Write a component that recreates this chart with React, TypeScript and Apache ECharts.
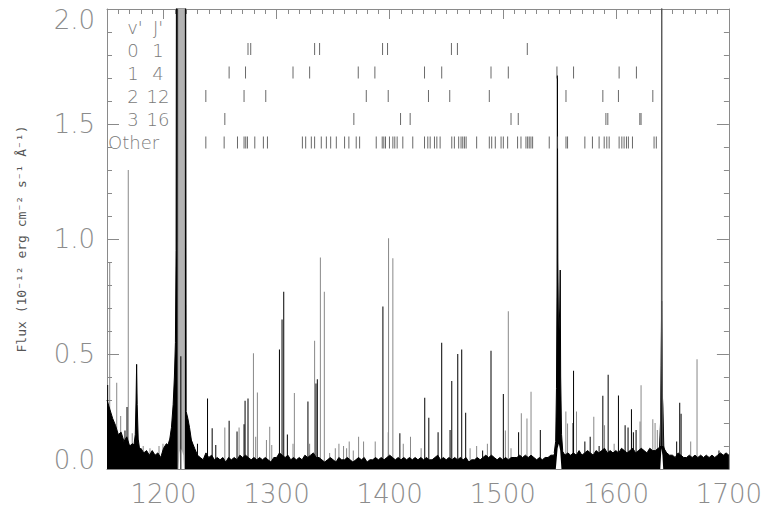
import React, { useEffect, useRef } from "react";
import * as echarts from "echarts";

// ---------- data ----------
const xTickLabels = [1200, 1300, 1400, 1500, 1600, 1700];

// solid noisy continuum (upper envelope), sampled every 2.5 A from 1150 A
const contStart = 1150;
const contStep = 2.5;
const continuumTop = [
  0.30, 0.26, 0.22, 0.19, 0.15, 0.16, 0.12, 0.14, 0.10, 0.11,
  0.10, 0.08, 0.09, 0.07, 0.08, 0.06, 0.08, 0.06, 0.07, 0.05,
  0.09, 0.11, 0.10, 0.13, 0.15, 0.10, 0.10, 0.10, 0.10, 0.14,
  0.12, 0.09, 0.06, 0.05, 0.04, 0.07, 0.05, 0.06, 0.04, 0.05,
  0.04, 0.05, 0.03, 0.05, 0.04, 0.05, 0.04, 0.06, 0.05, 0.06,
  0.05, 0.04, 0.05, 0.04, 0.05, 0.04, 0.05, 0.04, 0.03, 0.05,
  0.05, 0.07, 0.06, 0.05, 0.06, 0.04, 0.05, 0.04, 0.05, 0.04,
  0.06, 0.05, 0.06, 0.07, 0.05, 0.05, 0.04, 0.03, 0.04, 0.05,
  0.04, 0.03, 0.05, 0.04, 0.04, 0.05, 0.04, 0.03, 0.04, 0.05,
  0.04, 0.05, 0.03, 0.04, 0.04, 0.05, 0.04, 0.05, 0.04, 0.05,
  0.06, 0.05, 0.04, 0.05, 0.04, 0.05, 0.04, 0.05, 0.04, 0.05,
  0.04, 0.05, 0.04, 0.05, 0.04, 0.04, 0.05, 0.06, 0.04, 0.05,
  0.04, 0.05, 0.04, 0.05, 0.04, 0.05, 0.04, 0.05, 0.03, 0.04,
  0.04, 0.05, 0.04, 0.05, 0.06, 0.05, 0.06, 0.05, 0.04, 0.05,
  0.04, 0.05, 0.04, 0.05, 0.05, 0.05, 0.06, 0.05, 0.06, 0.05,
  0.06, 0.05, 0.04, 0.05, 0.04, 0.05, 0.05, 0.06, 0.06, 0.08,
  0.10, 0.08, 0.06, 0.07, 0.06, 0.07, 0.06, 0.08, 0.06, 0.07,
  0.08, 0.07, 0.06, 0.08, 0.07, 0.08, 0.09, 0.07, 0.08, 0.07,
  0.08, 0.07, 0.09, 0.08, 0.07, 0.08, 0.09, 0.07, 0.08, 0.09,
  0.08, 0.07, 0.09, 0.08, 0.08, 0.09, 0.10, 0.09, 0.07, 0.06,
  0.06, 0.05, 0.07, 0.06, 0.05, 0.05, 0.06, 0.05, 0.06, 0.05,
  0.06, 0.05, 0.06, 0.05, 0.06, 0.05, 0.06, 0.07, 0.06, 0.07,
  0.06,
];

// narrow emission lines [wavelength A, flux]
const graySpikes: [number, number][] = [
  [1152.4, 0.9], [1158.6, 0.375], [1162.1, 0.23], [1168.8, 1.3], [1172.3, 0.155],
  [1182, 0.1], [1188, 0.09], [1196, 0.1], [1199.5, 0.11], [1254.2, 0.18],
  [1266.8, 0.18], [1279.5, 0.503], [1281.5, 0.14], [1283.0, 0.333], [1291.0, 0.126],
  [1293.9, 0.184], [1295.7, 0.104], [1314.5, 0.11], [1315.7, 0.33], [1329.2, 0.11],
  [1333.6, 0.558], [1338.7, 0.92], [1342.2, 0.771], [1346.9, 0.07], [1351.9, 0.09],
  [1355.1, 0.11], [1359.2, 0.1], [1361.9, 0.09], [1364.2, 0.12], [1367.8, 0.08],
  [1372.5, 0.14], [1376.9, 0.12], [1387.2, 0.12], [1398.7, 0.16], [1399.0, 1.003],
  [1402.8, 0.916], [1412.0, 0.11], [1418.4, 0.14], [1427.8, 0.09], [1471.1, 0.09],
  [1476.9, 0.1], [1486.4, 0.11], [1502.3, 0.167], [1504.9, 0.686], [1507.3, 0.09],
  [1516.4, 0.242], [1521.4, 0.22], [1525.0, 0.336], [1555.8, 0.25], [1557.3, 0.198],
  [1561.7, 0.2], [1565.2, 0.25], [1580.5, 0.227], [1590.0, 0.19], [1598.5, 0.11],
  [1621.4, 0.206], [1622.3, 0.364], [1632.7, 0.216], [1634.7, 0.2], [1636.7, 0.17],
  [1666.2, 0.12], [1671.8, 0.477],
];
const blackSpikes: [number, number][] = [
  [1150.6, 0.365], [1165.9, 0.167], [1167.7, 0.27], [1215.3, 0.49], [1230, 0.11],
  [1238.9, 0.307], [1243, 0.177], [1246.2, 0.104], [1258, 0.21], [1265, 0.163],
  [1271.2, 0.195], [1272.1, 0.297], [1274.7, 0.307], [1302.5, 0.52], [1304.8, 0.65],
  [1306.3, 0.771], [1309.5, 0.15], [1327.7, 0.293], [1334.8, 0.372], [1336.0, 0.39],
  [1394.0, 0.706], [1409.0, 0.155], [1431.0, 0.31], [1434.6, 0.223], [1442.8, 0.16],
  [1446.0, 0.549], [1453.4, 0.17], [1454.9, 0.383], [1460.2, 0.5], [1463.7, 0.52],
  [1467.2, 0.245], [1482.2, 0.08], [1489.6, 0.514], [1500.5, 0.326], [1514.0, 0.16],
  [1533.2, 0.17], [1562.6, 0.427], [1572.6, 0.12], [1577.3, 0.14], [1585.2, 0.1],
  [1588.5, 0.319], [1593.2, 0.41], [1602.3, 0.32], [1608.2, 0.19], [1610.8, 0.18],
  [1613.8, 0.26], [1615.5, 0.16], [1617.9, 0.17], [1653.8, 0.12], [1656.5, 0.288],
  [1657.7, 0.24], [1691.2, 0.08],
];

// broad / saturated line profiles
const lyaBlack: [number, number][] = [
  [1203, 0.09], [1205.5, 0.13], [1207, 0.18], [1208.5, 0.28], [1209.6, 0.4],
  [1210.5, 0.55], [1211.1, 0.95], [1211.5, 2.6], [1219.5, 2.6], [1220.0, 0.25], [1221.5, 0.22],
  [1223, 0.18], [1224.5, 0.13], [1226, 0.09], [1228, 0.06],
];
const lyaGray: [number, number][] = [[1212.9, 0], [1213, 2.6], [1218.4, 2.6], [1218.5, 0]];
const ciiiBlack: [number, number][] = [
  [1173.5, 0.09], [1175, 0.15], [1175.7, 0.3], [1176.2, 0.455], [1176.7, 0.28], [1177.6, 0.13], [1179, 0.08],
];
const civBlack: [number, number][] = [
  [1545.5, 0.07], [1546.8, 0.12], [1547.5, 0.35], [1548.0, 0.8], [1548.3, 1.71], [1548.7, 0.9],
  [1549.4, 0.55], [1550.4, 0.7], [1550.8, 0.865], [1551.2, 0.4], [1552, 0.15], [1553, 0.08],
];
const heiiBlack: [number, number][] = [
  [1638.5, 0.08], [1639.5, 0.2], [1640.1, 0.45], [1640.5, 0.73], [1640.9, 0.35], [1641.6, 0.27], [1642.4, 0.1], [1643.5, 0.07],
];
const heiiGray: [number, number][] = [
  [1639.6, 0.1], [1640.3, 0.6], [1640.6, 2.6], [1640.9, 0.7], [1641.5, 0.1],
];
// white gaps under the strongest lines
const lineGaps: [number, number][] = [
  [1213.3, 0], [1214, 0.07], [1215, 0.09], [1216.2, 0.08], [1217.5, 0.06], [1218.2, 0],
  [1546.9, 0], [1548.5, 0.09], [1549.6, 0.11], [1550.8, 0.08], [1551.9, 0],
  [1639.3, 0], [1640.3, 0.09], [1641.2, 0.06], [1641.9, 0],
];

// H2 line identifications (progressions)
const rowNames = [["0", "1"], ["1", "4"], ["2", "12"], ["3", "16"]];
const row01 = [1274.7, 1277.1, 1333.6, 1338.0, 1393.7, 1398.1, 1454.6, 1459.9, 1521.7];
const row14 = [1258.0, 1272.5, 1314.5, 1329.2, 1372.2, 1386.9, 1430.8, 1446.0, 1489.6, 1504.9, 1547.9, 1562.6, 1602.9, 1618.2];
const row212 = [1237.4, 1271.2, 1290.4, 1379.3, 1398.7, 1434.3, 1453.1, 1488.1, 1555.9, 1588.5, 1602.3, 1632.7];
const row316 = [1254.2, 1368.3, 1409.6, 1418.1, 1507.3, 1513.7, 1591.2, 1592.9, 1621.2, 1622.3];
const rowOther = [
  1237.4, 1253.6, 1265.4, 1271.2, 1272.7, 1274.2, 1280.7, 1288.3, 1291.9, 1322.8, 1325.7, 1330.7,
  1333.6, 1339.5, 1344.0, 1347.8, 1352.8, 1360.1, 1363.9, 1370.4, 1373.4, 1388.1, 1393.4, 1394.8,
  1396.3, 1399.8, 1402.8, 1404.5, 1406.6, 1411.6, 1420.4, 1430.8, 1433.7, 1435.8, 1439.6, 1441.7,
  1444.6, 1454.9, 1457.2, 1461.0, 1463.1, 1464.6, 1466.1, 1467.6, 1476.9, 1488.1, 1490.2, 1493.4,
  1498.5, 1500.5, 1504.3, 1513.1, 1516.1, 1520.5, 1522.0, 1523.4, 1524.9, 1526.4, 1541.1, 1548.4,
  1555.9, 1557.3, 1572.6, 1579.3, 1585.2, 1589.7, 1592.0, 1594.1, 1602.9, 1605.3, 1607.3, 1609.4,
  1611.1, 1614.7, 1633.8, 1635.8,
];
const rowLevels = [1.826, 1.724, 1.622, 1.522, 1.42];

export default function App() {
  const ref = useRef<HTMLDivElement>(null);
  useEffect(() => {
    document.body.style.margin = "0";
    document.body.style.overflow = "hidden";
    if (!ref.current) return;
    const chart = echarts.init(ref.current, null, { renderer: "svg" });
    const axisGray = "#8a8a8a";
    const labelFont = { fontFamily: "DejaVu Sans", fontWeight: 200 as any, fontSize: 26, color: "#8c8c8c" };
    const legendFont = "200 18px 'DejaVu Sans'";
    const continuum = continuumTop.map((v, i) => [contStart + i * contStep, v]);
    const rows = [row01, row14, row212, row316, rowOther];
    const xBase = { type: "value", min: 1150, max: 1700, splitLine: { show: false } } as any;
    const tickStyle = { color: axisGray, width: 1 };

    const texts: any[] = [];
    const tx = (x: number, y: number, t: string, align = "center") =>
      texts.push({
        type: "text", x, y, z: 100,
        style: { text: t, font: legendFont, fill: "#7a7a7a", align, verticalAlign: "middle" },
      });
    tx(135, 27, "v'");
    tx(158, 27, "J'");
    const rowPix = [50, 73, 96, 119];
    rowNames.forEach((r, i) => {
      tx(133, rowPix[i], r[0]);
      tx(158, rowPix[i], r[1]);
    });
    tx(108, 142, "Other", "left");

    const blackArea = (data: [number, number][]) => ({
      type: "line", data, symbol: "none", z: 2,
      lineStyle: { color: "#000", width: 1 }, areaStyle: { color: "#000", opacity: 1 },
    });

    const option: any = {
      animation: false,
      backgroundColor: "#fff",
      grid: { left: 107, right: 35, top: 9, bottom: 46, containLabel: false },
      xAxis: [
        {
          ...xBase, position: "bottom",
          axisLine: { show: true, lineStyle: tickStyle },
          axisTick: { show: true, inside: true, length: 10, customValues: xTickLabels, lineStyle: tickStyle },
          axisLabel: { show: true, customValues: xTickLabels, margin: 12, ...labelFont, formatter: (v: number) => String(v) },
        },
        {
          ...xBase, position: "bottom", interval: 10,
          axisLine: { show: false }, axisTick: { show: true, inside: true, length: 5, lineStyle: tickStyle },
          axisLabel: { show: false },
        },
        {
          ...xBase, position: "top",
          axisLine: { show: true, lineStyle: tickStyle },
          axisTick: { show: true, inside: true, length: 10, customValues: xTickLabels, lineStyle: tickStyle },
          axisLabel: { show: false },
        },
        {
          ...xBase, position: "top", interval: 10,
          axisLine: { show: false }, axisTick: { show: true, inside: true, length: 5, lineStyle: tickStyle },
          axisLabel: { show: false },
        },
      ],
      yAxis: [
        {
          type: "value", min: 0, max: 2, interval: 0.5, position: "left",
          splitLine: { show: false },
          axisLine: { show: true, lineStyle: tickStyle },
          axisTick: { show: true, inside: true, length: 12, lineStyle: tickStyle },
          minorTick: { show: true, splitNumber: 5, length: 5, lineStyle: tickStyle },
          axisLabel: {
            margin: 12, ...labelFont,
            formatter: (v: number) => (v === 2 ? "{t|2.0}" : v === 0 ? "{b|0.0}" : v.toFixed(1)),
            rich: { t: { ...labelFont, padding: [21, 0, 0, 0] }, b: { ...labelFont, padding: [0, 0, 18, 0] } },
          },
          name: "Flux (10⁻¹² erg cm⁻² s⁻¹ Å⁻¹)",
          nameLocation: "middle",
          nameGap: 79,
          nameTextStyle: { fontFamily: "DejaVu Sans Mono", fontSize: 13, color: "#555" },
        },
        {
          type: "value", min: 0, max: 2, interval: 0.5, position: "right",
          splitLine: { show: false },
          axisLine: { show: true, lineStyle: tickStyle },
          axisTick: { show: true, inside: true, length: 12, lineStyle: tickStyle },
          minorTick: { show: true, splitNumber: 5, length: 5, lineStyle: tickStyle },
          axisLabel: { show: false },
        },
      ],
      series: [
        {
          type: "bar", name: "gray", data: graySpikes, barWidth: 1, barGap: "-100%", z: 1,
          itemStyle: { color: "#888" },
        },
        {
          type: "line", data: heiiGray, symbol: "none", z: 3, lineStyle: { color: "#555", width: 1 },
        },
        {
          type: "line", data: continuum, symbol: "none", z: 2,
          lineStyle: { color: "#000", width: 1 }, areaStyle: { color: "#000", opacity: 1 },
        },
        blackArea(lyaBlack),
        blackArea(ciiiBlack),
        blackArea(civBlack),
        blackArea(heiiBlack),
        {
          type: "line", data: lyaGray, symbol: "none", z: 3,
          lineStyle: { color: "#aaa", width: 1 }, areaStyle: { color: "#b3b3b3", opacity: 1 },
        },
        {
          type: "line", data: lineGaps, symbol: "none", z: 4,
          lineStyle: { width: 0, color: "#fff" }, areaStyle: { color: "#fff", opacity: 1 },
        },
        {
          type: "bar", name: "black", data: blackSpikes, barWidth: 1, barGap: "-100%", z: 5,
          itemStyle: { color: "#000" },
        },
        ...rows.map((r, i) => ({
          type: "scatter", z: 6, symbol: "rect", symbolSize: [1, 12],
          itemStyle: { color: "#444" },
          data: r.map((l) => [l, rowLevels[i]]),
        })),
      ],
      graphic: texts,
    };
    chart.setOption(option);
    return () => chart.dispose();
  }, []);
  return <div ref={ref} style={{ width: 765, height: 515 }} />;
}
